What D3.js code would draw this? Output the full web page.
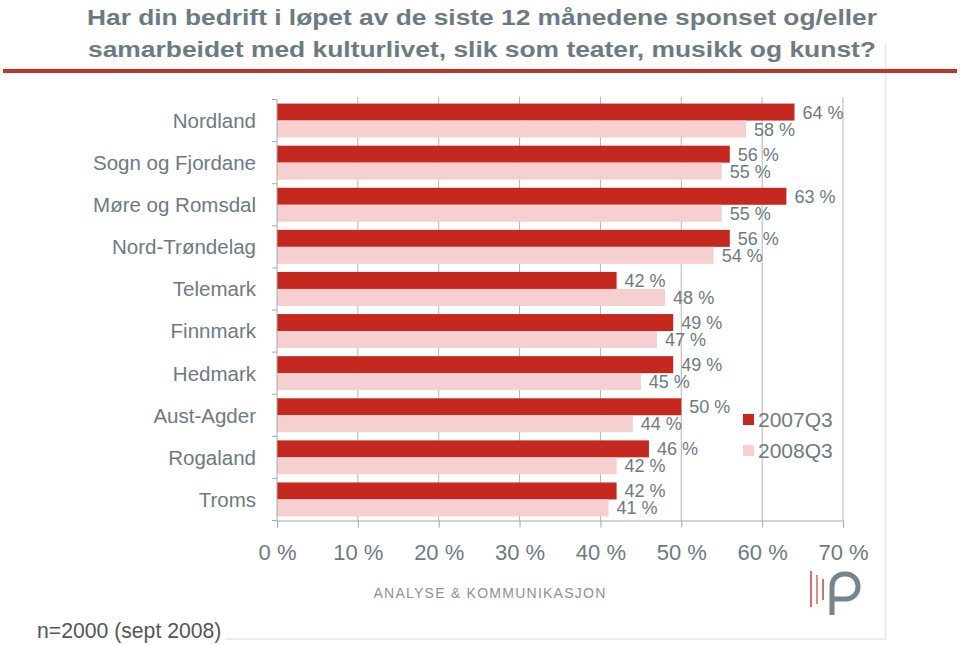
<!DOCTYPE html>
<html>
<head>
<meta charset="utf-8">
<script src="https://cdn.jsdelivr.net/npm/d3@7"></script>
<style>
  html, body { margin: 0; padding: 0; background: #fff; }
  svg { display: block; }
</style>
</head>
<body>
<svg id="chart" width="960" height="645"></svg>
<script>
const titleLines = [
  "Har din bedrift i løpet av de siste 12 månedene sponset og/eller",
  "samarbeidet med kulturlivet, slik som teater, musikk og kunst?"
];
const categories = ["Nordland", "Sogn og Fjordane", "Møre og Romsdal", "Nord-Trøndelag",
  "Telemark", "Finnmark", "Hedmark", "Aust-Agder", "Rogaland", "Troms"];
const seriesNames = ["2007Q3", "2008Q3"];
const values2007 = [64, 56, 63, 56, 42, 49, 49, 50, 46, 42];
const values2008 = [58, 55, 55, 54, 48, 47, 45, 44, 42, 41];
const xTicks = [0, 10, 20, 30, 40, 50, 60, 70];
const footnote = "n=2000 (sept 2008)";
const brand = "ANALYSE & KOMMUNIKASJON";

const colors = { "2007Q3": "#c4281f", "2008Q3": "#f6d0d0" };
const grey = "#6e7a82";
const font = "'Liberation Sans', Arial, sans-serif";

const svg = d3.select("#chart");

// panel borders
svg.append("line").attr("x1", 885.5).attr("x2", 885.5).attr("y1", 44).attr("y2", 639)
  .attr("stroke", "#e6e6e6").attr("stroke-width", 1.5);
svg.append("line").attr("x1", 225).attr("x2", 886).attr("y1", 639).attr("y2", 639)
  .attr("stroke", "#e6e6e6").attr("stroke-width", 1.5);

// title
svg.append("g").selectAll("text").data(titleLines).join("text")
  .attr("x", 482).attr("y", (d, i) => 25 + i * 31.5)
  .attr("text-anchor", "middle")
  .attr("textLength", (d, i) => i === 0 ? 790 : 788)
  .attr("lengthAdjust", "spacingAndGlyphs")
  .attr("font-family", font).attr("font-weight", "bold").attr("font-size", 22)
  .attr("fill", grey).text(d => d);

// red rule
svg.append("line").attr("x1", 3).attr("x2", 957).attr("y1", 71).attr("y2", 71)
  .attr("stroke", "#c0322a").attr("stroke-width", 4);

const x = d3.scaleLinear().domain([0, 70]).range([277, 843]);
const y = d3.scaleBand().domain(categories).range([99.5, 520.5]).padding(0);
const ySub = d3.scaleBand().domain(seriesNames).range([0, y.bandwidth()])
  .paddingInner(0).paddingOuter(0.24);

// gridlines
svg.append("g").selectAll("line").data(xTicks.slice(1)).join("line")
  .attr("x1", d => x(d)).attr("x2", d => x(d))
  .attr("y1", 97).attr("y2", 520.5)
  .attr("stroke", "#b4b4b4").attr("stroke-width", 1);

// bars
const data = categories.map((c, i) => ({ cat: c, vals: [
  { s: "2007Q3", v: values2007[i] }, { s: "2008Q3", v: values2008[i] } ] }));

const groups = svg.append("g").selectAll("g").data(data).join("g")
  .attr("transform", d => `translate(0,${y(d.cat)})`);

groups.selectAll("rect").data(d => d.vals).join("rect")
  .attr("x", x(0)).attr("y", d => ySub(d.s))
  .attr("width", d => x(d.v) - x(0)).attr("height", ySub.bandwidth())
  .attr("fill", d => colors[d.s]);

groups.selectAll("text").data(d => d.vals).join("text")
  .attr("x", d => x(d.v) + 8)
  .attr("y", d => ySub(d.s) + ySub.bandwidth() / 2)
  .attr("dy", "0.36em")
  .attr("font-family", font).attr("font-size", 18)
  .attr("fill", grey)
  .text(d => d.v + " %");

// y axis
const yAxisG = svg.append("g").attr("transform", `translate(${x(0)},0)`);
yAxisG.append("line").attr("x1", 0).attr("x2", 0).attr("y1", 99.5).attr("y2", 520.5)
  .attr("stroke", "#a8a8a8");
const boundaries = categories.map(c => y(c)).concat([y.range()[1]]);
yAxisG.selectAll("line.tk").data(boundaries).join("line").attr("class", "tk")
  .attr("x1", -5).attr("x2", 0).attr("y1", d => d).attr("y2", d => d)
  .attr("stroke", "#a8a8a8");
svg.append("g").selectAll("text").data(categories).join("text")
  .attr("x", 256).attr("y", d => y(d) + y.bandwidth() / 2).attr("dy", "0.36em")
  .attr("text-anchor", "end")
  .attr("font-family", font).attr("font-size", 20.5).attr("fill", grey)
  .text(d => d);

// x axis
const xAxis = d3.axisBottom(x).tickValues(xTicks).tickSize(7).tickPadding(17)
  .tickFormat(d => d + " %");
const xg = svg.append("g").attr("transform", "translate(0,520.5)").call(xAxis);
xg.select(".domain").attr("stroke", "#a8a8a8");
xg.selectAll(".tick line").attr("stroke", "#a8a8a8");
xg.selectAll(".tick text").attr("font-family", font).attr("font-size", 22)
  .attr("fill", grey);

// legend
const legend = svg.append("g").selectAll("g").data(seriesNames).join("g")
  .attr("transform", (d, i) => `translate(743,${414 + i * 31})`);
legend.append("rect").attr("width", 11).attr("height", 11).attr("fill", d => colors[d]);
legend.append("text").attr("x", 15).attr("y", 5.5).attr("dy", "0.36em")
  .attr("font-family", font).attr("font-size", 21).attr("fill", grey).text(d => d);

// brand
svg.append("text").attr("x", 490).attr("y", 598).attr("text-anchor", "middle")
  .attr("font-family", font).attr("font-size", 14).attr("letter-spacing", 1.25)
  .attr("fill", "#8b9399").text(brand);

// logo
const logo = svg.append("g");
logo.append("line").attr("x1", 811).attr("x2", 811).attr("y1", 571).attr("y2", 607)
  .attr("stroke", "#c8504a").attr("stroke-width", 1.6);
logo.append("line").attr("x1", 817).attr("x2", 817).attr("y1", 575).attr("y2", 604)
  .attr("stroke", "#c8504a").attr("stroke-width", 1.3);
logo.append("line").attr("x1", 823).attr("x2", 823).attr("y1", 579).attr("y2", 600)
  .attr("stroke", "#c8504a").attr("stroke-width", 1.6);
logo.append("path")
  .attr("d", "M832,615 L832,586 A12,12 0 0 1 844,574 L846,574 A12,12 0 0 1 858,586 L858,587 A12,12 0 0 1 846,599 L832,599")
  .attr("fill", "none").attr("stroke", "#77848c").attr("stroke-width", 5);

// footnote
svg.append("text").attr("x", 37).attr("y", 638)
  .attr("font-family", font).attr("font-size", 21.2).attr("fill", "#555")
  .text(footnote);
</script>
</body>
</html>
